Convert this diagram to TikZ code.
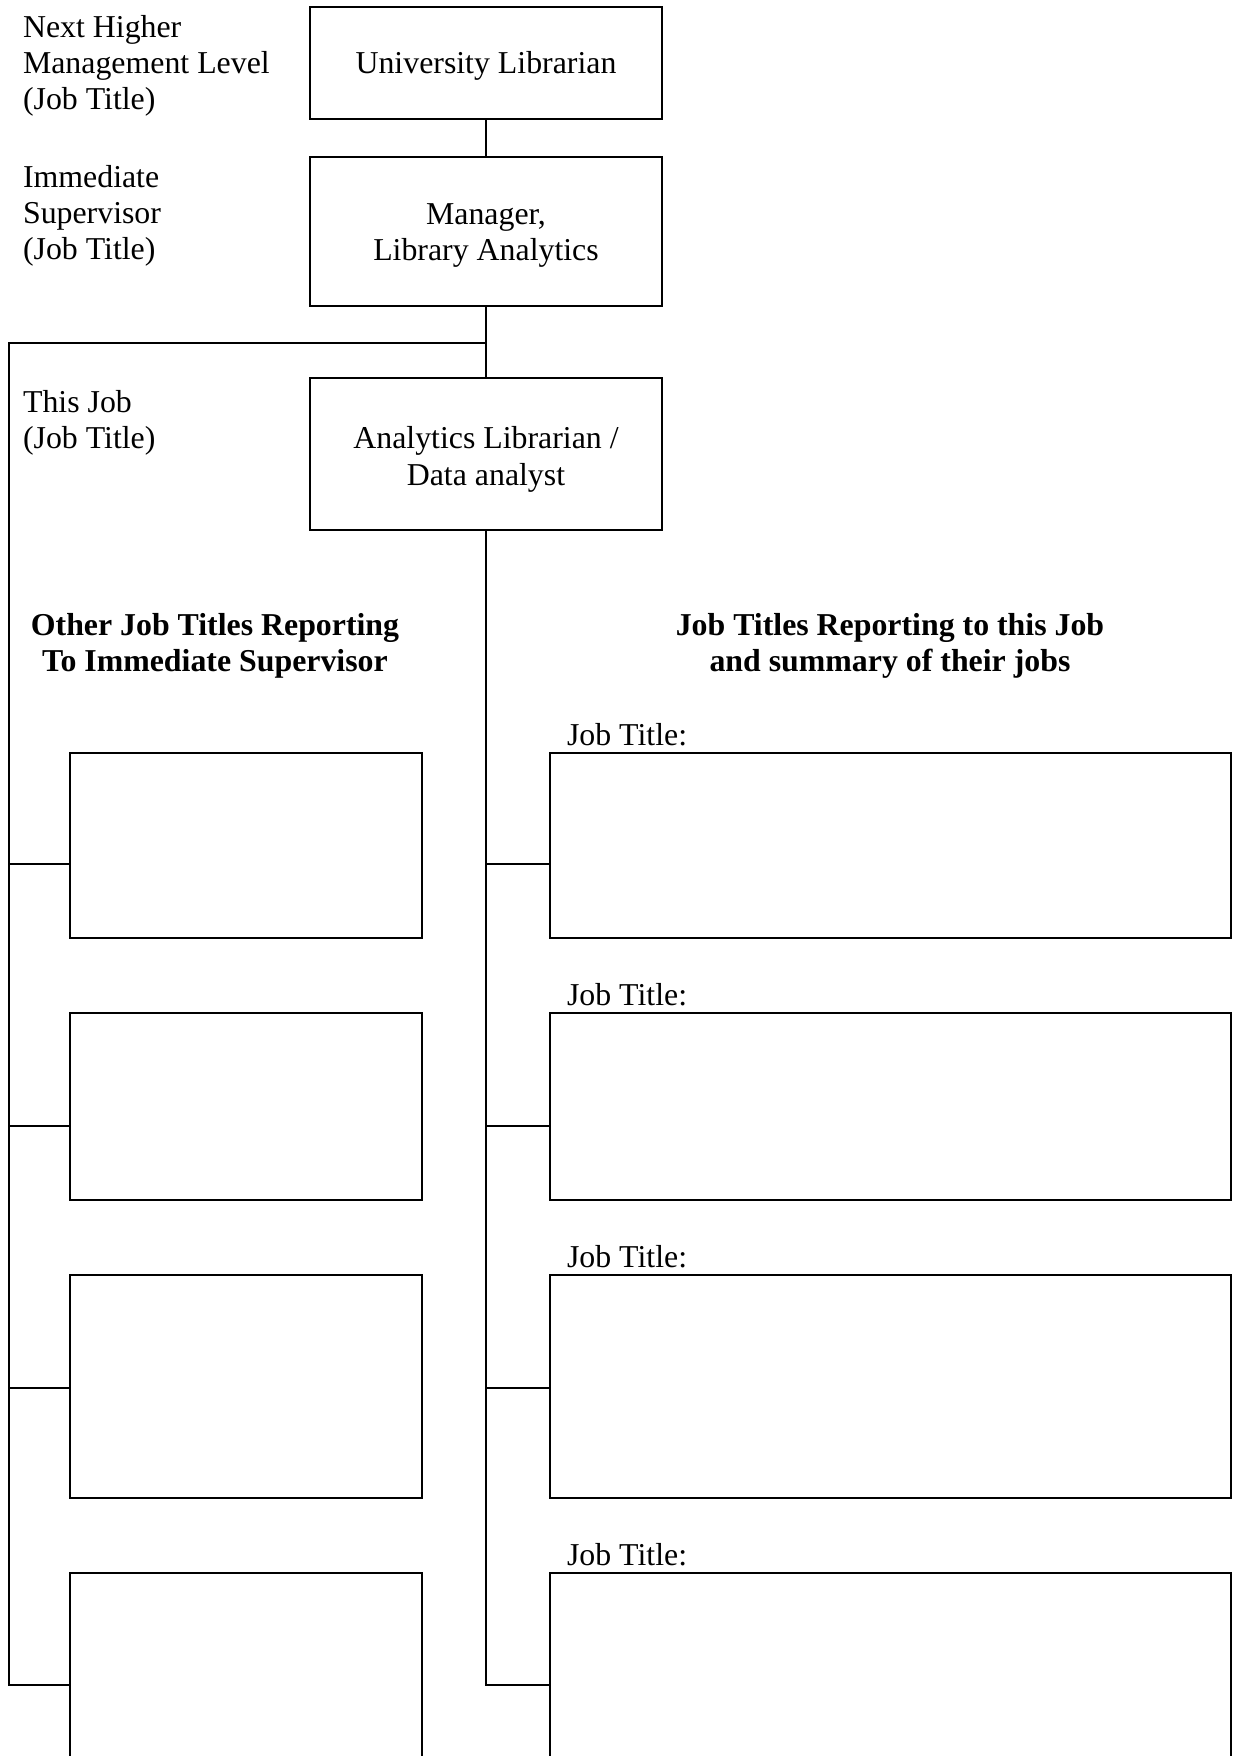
\documentclass[tikz,border=0pt]{standalone}
\usepackage{fontspec}
\setmainfont{Liberation Serif}
\begin{document}
\begin{tikzpicture}[x=0.38pt,y=-0.38pt,
  line width=0.8pt,
  box/.style={draw, line width=0.8pt, inner sep=0pt},
  sz/.style 2 args={minimum width=#1*0.38pt, minimum height=#2*0.38pt},
  txt/.style={inner sep=0pt, font=\fontsize{12.1}{13.7}\selectfont},
  lbl/.style={txt, anchor=base west},
  ctr/.style={txt, anchor=base},
  hd/.style={txt, anchor=base, font=\fontsize{12.1}{13.7}\selectfont\bfseries},
  conn/.style={line width=0.8pt}]
\useasboundingbox (0,0) rectangle (1235,1756);
\clip (0,0) rectangle (1235,1756);

% left labels
\node[lbl] (nh1) at (22,37.5) {Next Higher};
\node[lbl] (nh2) at (22,73.5) {Management Level};
\node[lbl] (nh3) at (22,109.5) {(Job Title)};
\node[lbl] (is1) at (22,187) {Immediate};
\node[lbl] (is2) at (22,223) {Supervisor};
\node[lbl] (is3) at (22,259) {(Job Title)};
\node[lbl] (tj1) at (22,412) {This Job};
\node[lbl] (tj2) at (22,448) {(Job Title)};

% top boxes
\node[box, sz={352}{112}] (ul) at (486,63) {};
\node[ctr] (ult) at (486,73) {University Librarian};
\node[box, sz={352}{149}] (mg) at (486,231.5) {};
\node[ctr] (mgt1) at (486,224) {Manager,};
\node[ctr] (mgt2) at (486,260.5) {Library Analytics};
\node[box, sz={352}{152}] (tj) at (486,454) {};
\node[ctr] (tjt1) at (486,448) {Analytics Librarian /};
\node[ctr] (tjt2) at (486,485.5) {Data analyst};

% headings
\node[hd] (hl1) at (215,635) {Other Job Titles Reporting};
\node[hd] (hl2) at (215,671) {To Immediate Supervisor};
\node[hd] (hr1) at (890,635) {Job Titles Reporting to this Job};
\node[hd] (hr2) at (890,671) {and summary of their jobs};

% left boxes
\node[box, sz={352}{185}] (L1) at (246,845.5) {};
\node[box, sz={352}{187}] (L2) at (246,1106.5) {};
\node[box, sz={352}{223}] (L3) at (246,1386.5) {};
\node[box, sz={352}{227}] (L4) at (246,1686.5) {};

% right boxes
\node[box, sz={681}{185}] (R1) at (890.5,845.5) {};
\node[box, sz={681}{187}] (R2) at (890.5,1106.5) {};
\node[box, sz={681}{223}] (R3) at (890.5,1386.5) {};
\node[box, sz={681}{227}] (R4) at (890.5,1686.5) {};

% job title labels
\node[lbl] (jt1) at (566,745) {Job Title:};
\node[lbl] (jt2) at (566,1005) {Job Title:};
\node[lbl] (jt3) at (566,1267) {Job Title:};
\node[lbl] (jt4) at (566,1565) {Job Title:};

% connector coordinates
\coordinate (ltop) at (9,343);
\coordinate (lbot) at (9,1685);
\coordinate (rbot) at (486,1685);
\coordinate (k1) at (0,864);
\coordinate (k2) at (0,1126);
\coordinate (k3) at (0,1388);

% connectors
\draw[conn] (ul.south) -- (mg.north);
\draw[conn] (mg.south) -- (tj.north);
\draw[conn] (mg.south |- ltop) -- (ltop) -- (lbot) -- (L4.west |- lbot);
\draw[conn] (tj.south) -- (rbot) -- (R4.west |- rbot);
\draw[conn] (ltop |- k1) -- (L1.west |- k1);
\draw[conn] (ltop |- k2) -- (L2.west |- k2);
\draw[conn] (ltop |- k3) -- (L3.west |- k3);
\draw[conn] (rbot |- k1) -- (R1.west |- k1);
\draw[conn] (rbot |- k2) -- (R2.west |- k2);
\draw[conn] (rbot |- k3) -- (R3.west |- k3);
\end{tikzpicture}
\end{document}
